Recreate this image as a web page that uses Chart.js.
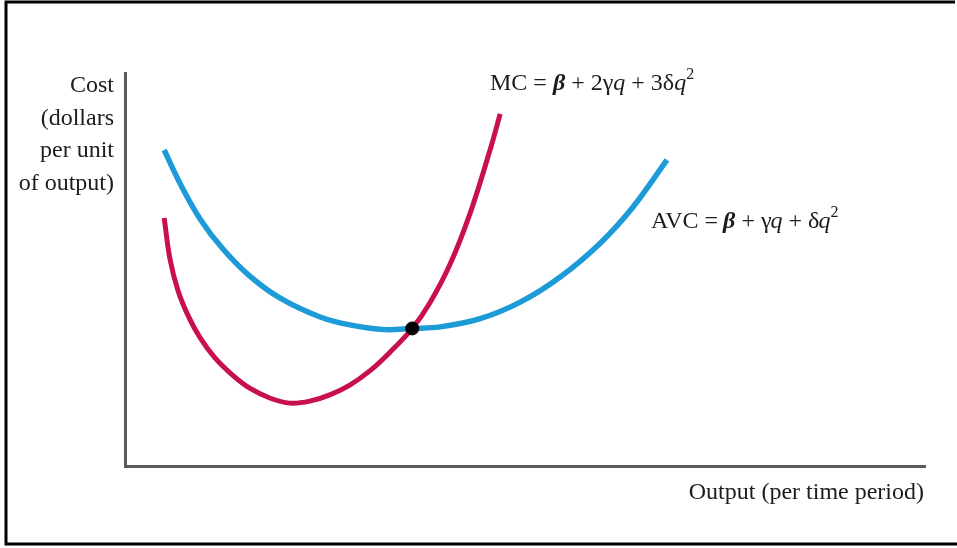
<!DOCTYPE html>
<html>
<head>
<meta charset="utf-8">
<script src="https://cdn.jsdelivr.net/npm/chart.js@4.4.1/dist/chart.umd.min.js"></script>
<style>
  html, body { margin: 0; padding: 0; background: #fff; }
  #wrap { width: 957px; height: 548px; position: relative; }
</style>
</head>
<body>
<div id="wrap"><canvas id="c" width="957" height="548"></canvas></div>
<script>
// Average variable cost curve (output q, cost per unit)
const avcQ    = [4.9, 6.9, 9.4, 12.25, 15.6, 19.4, 24.4, 28.1, 32.5, 35.9, 39.4, 44.4, 49.4, 54.4, 59.4, 63.5, 67.75];
const avcCost = [80.4, 71.8, 62.8, 55.2, 48.3, 42.7, 37.9, 35.9, 34.7, 35.0, 35.4, 37.5, 41.7, 48.1, 56.7, 65.9, 77.9];

// Marginal cost curve
const mcQ    = [4.9, 5.6, 6.6, 7.9, 9.4, 11.25, 13.4, 15.6, 18.1, 20.6, 23.1, 25.6, 28.1, 30.6, 33.1, 35.9, 38.1, 40.6, 43.1, 45.6, 46.9];
const mcCost = [63.1, 52.9, 44.8, 38.2, 32.6, 27.5, 23.2, 19.8, 17.3, 16.0, 16.5, 18.1, 20.6, 24.2, 28.9, 35.0, 41.5, 51.2, 64.1, 80.2, 89.6];

// Point where MC crosses the minimum of AVC
const crossQ = [35.9];
const crossCost = [35.0];

// Axis ranges
const qRange = [0, 100];
const costRange = [0, 100];

const pts = (xs, ys) => xs.map((x, i) => ({ x, y: ys[i] }));

const SERIF = '"Liberation Serif", "DejaVu Serif", serif';
const INK = '#1c1c1c';

// Draws a run of text pieces with their own fonts and vertical offsets
function drawRun(ctx, x, y, pieces) {
  ctx.textBaseline = 'middle';
  ctx.textAlign = 'left';
  let cx = x;
  for (const p of pieces) {
    ctx.font = p.font;
    ctx.fillText(p.t, cx, y + (p.dy || 0));
    cx += ctx.measureText(p.t).width + (p.gap || 0);
  }
}

const labelsPlugin = {
  id: 'labels',
  afterDraw(chart) {
    const ctx = chart.ctx;
    ctx.save();
    ctx.fillStyle = INK;

    const reg = `24px ${SERIF}`;
    const ital = `italic 24px ${SERIF}`;
    const beta = `bold italic 24px ${SERIF}`;
    const sup = `16px ${SERIF}`;

    // vertical axis title
    ctx.font = reg;
    ctx.textAlign = 'right';
    ctx.textBaseline = 'middle';
    ['Cost', '(dollars', 'per unit', 'of output)'].forEach((s, i) => {
      ctx.fillText(s, 114, 86 + i * 32.5);
    });

    // horizontal axis title
    ctx.textAlign = 'right';
    ctx.fillText('Output (per time period)', 924, 493);

    // curve equations
    drawRun(ctx, 490, 84, [
      { t: 'MC = ', font: reg },
      { t: 'β', font: beta },
      { t: ' + 2γ', font: reg },
      { t: 'q', font: ital },
      { t: ' + 3δ', font: reg },
      { t: 'q', font: ital },
      { t: '2', font: sup, dy: -9 }
    ]);
    drawRun(ctx, 651, 222, [
      { t: 'AVC = ', font: reg, gap: -1 },
      { t: 'β', font: beta },
      { t: ' + γ', font: reg, gap: -1 },
      { t: 'q', font: ital },
      { t: ' + δ', font: reg, gap: -1 },
      { t: 'q', font: ital },
      { t: '2', font: sup, dy: -9 }
    ]);

    // page frame
    ctx.strokeStyle = '#000';
    ctx.lineWidth = 3;
    ctx.beginPath();
    ctx.moveTo(955, 2);
    ctx.lineTo(6, 2);
    ctx.lineTo(6, 544);
    ctx.lineTo(957, 544);
    ctx.stroke();
    ctx.restore();
  }
};

new Chart(document.getElementById('c'), {
  type: 'scatter',
  data: {
    datasets: [
      {
        label: 'AVC',
        data: pts(avcQ, avcCost),
        showLine: true,
        borderColor: '#1d9ad8',
        borderWidth: 5.5,
        pointRadius: 0,
        tension: 0.35,
        order: 2
      },
      {
        label: 'MC',
        data: pts(mcQ, mcCost),
        showLine: true,
        borderColor: '#c8104e',
        borderWidth: 5,
        pointRadius: 0,
        tension: 0.35,
        order: 1
      },
      {
        label: 'Minimum AVC',
        data: pts(crossQ, crossCost),
        showLine: false,
        pointRadius: 6.5,
        pointBackgroundColor: '#000',
        pointBorderColor: '#000',
        order: 0
      }
    ]
  },
  options: {
    responsive: false,
    animation: false,
    events: [],
    layout: { padding: { left: 125, right: 32, top: 73, bottom: 82 } },
    plugins: { legend: { display: false }, tooltip: { enabled: false } },
    scales: {
      x: {
        type: 'linear',
        min: qRange[0], max: qRange[1],
        grid: { display: false, drawTicks: false },
        ticks: { display: false },
        border: { display: true, color: '#5a5a5a', width: 3 },
        afterFit: s => { s.height = 0; }
      },
      y: {
        type: 'linear',
        min: costRange[0], max: costRange[1],
        grid: { display: false, drawTicks: false },
        ticks: { display: false },
        border: { display: true, color: '#5a5a5a', width: 3 },
        afterFit: s => { s.width = 0; }
      }
    }
  },
  plugins: [labelsPlugin]
});
</script>
</body>
</html>
